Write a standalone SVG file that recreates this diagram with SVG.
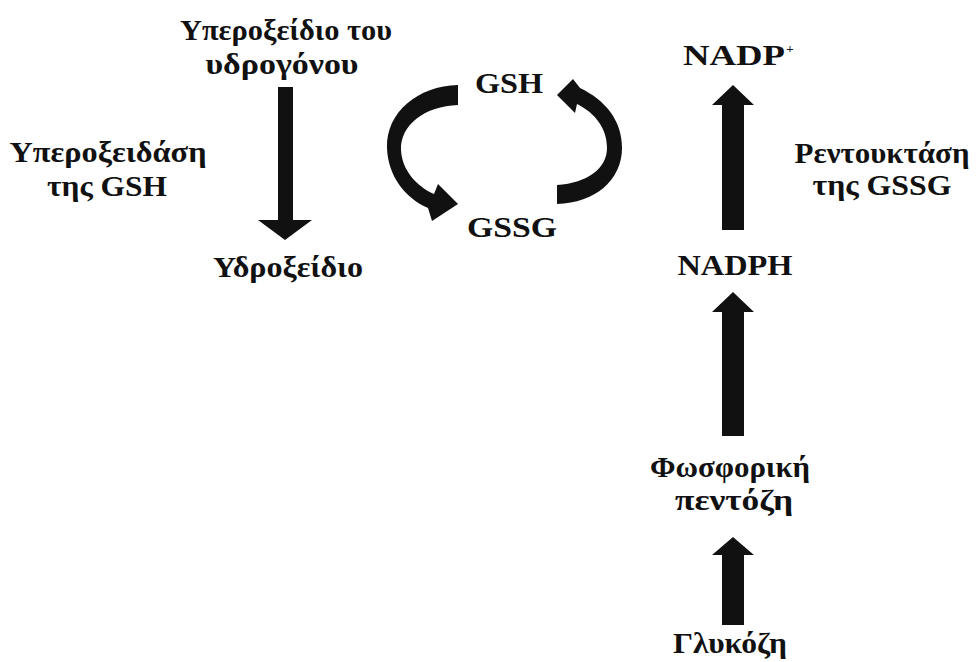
<svg xmlns="http://www.w3.org/2000/svg" width="976" height="662" viewBox="0 0 976 662">
<style>
text{font-family:"Liberation Serif","Times New Roman",serif;font-weight:bold;fill:#111;text-anchor:middle;font-size:29px}
.c{font-size:30px}
.s{font-size:13px}
.a{fill:#111}
</style>
<rect width="976" height="662" fill="#fff"/>
<g id="connectors">
<polygon class="a" points="278,87 293,87 293,220 312,220 285,240 258,220 278,220"/>
<path class="a" d="M458 85 C418 86 386 112 387 148 C388 176 405 198 428 208 L432 221 L458 204 L438 184 L434 194 C416 186 402 170 401 150 C400 125 425 106 458 105 Z"/>
<path class="a" d="M557 95 L573 79 L580 88 C605 100 622 120 622 148 C622 180 595 203 557 204 L557 185 C588 183 607 168 607 148 C607 128 595 113 577 104 L575 113 Z"/>
<polygon class="a" points="722,230 744,230 744,105 754,105 733,85 712,105 722,105"/>
<polygon class="a" points="722,436 744,436 744,312 754,312 733,292 712,312 722,312"/>
<polygon class="a" points="722,625 744,625 744,555 754,555 733,537 712,555 722,555"/>
</g>
<g id="n-peroxide"><text x="286" y="40" textLength="212" lengthAdjust="spacingAndGlyphs">Υπεροξείδιο του</text><text x="282" y="74" textLength="153" lengthAdjust="spacingAndGlyphs">υδρογόνου</text></g>
<g id="n-enzyme1"><text x="108" y="162" textLength="197" lengthAdjust="spacingAndGlyphs">Υπεροξειδάση</text><text x="107" y="196" textLength="120" lengthAdjust="spacingAndGlyphs">της GSH</text></g>
<g id="n-hydroxide"><text x="288" y="277" textLength="150" lengthAdjust="spacingAndGlyphs">Υδροξείδιο</text></g>
<g id="n-gsh"><text class="c" x="509" y="93" textLength="68" lengthAdjust="spacingAndGlyphs">GSH</text></g>
<g id="n-gssg"><text class="c" x="512" y="237" textLength="90" lengthAdjust="spacingAndGlyphs">GSSG</text></g>
<g id="n-nadp"><text class="c" x="734" y="65" textLength="102" lengthAdjust="spacingAndGlyphs">NADP</text><text class="s" x="790" y="53">+</text></g>
<g id="n-enzyme2"><text x="882" y="163" textLength="175" lengthAdjust="spacingAndGlyphs">Ρεντουκτάση</text><text x="882" y="195" textLength="139" lengthAdjust="spacingAndGlyphs">της GSSG</text></g>
<g id="n-nadph"><text class="c" x="735" y="275" textLength="115" lengthAdjust="spacingAndGlyphs">NADPH</text></g>
<g id="n-pentose"><text x="730" y="477" textLength="160" lengthAdjust="spacingAndGlyphs">Φωσφορική</text><text x="734" y="510" textLength="118" lengthAdjust="spacingAndGlyphs">πεντόζη</text></g>
<g id="n-glucose"><text x="730" y="653" textLength="114" lengthAdjust="spacingAndGlyphs">Γλυκόζη</text></g>
</svg>
